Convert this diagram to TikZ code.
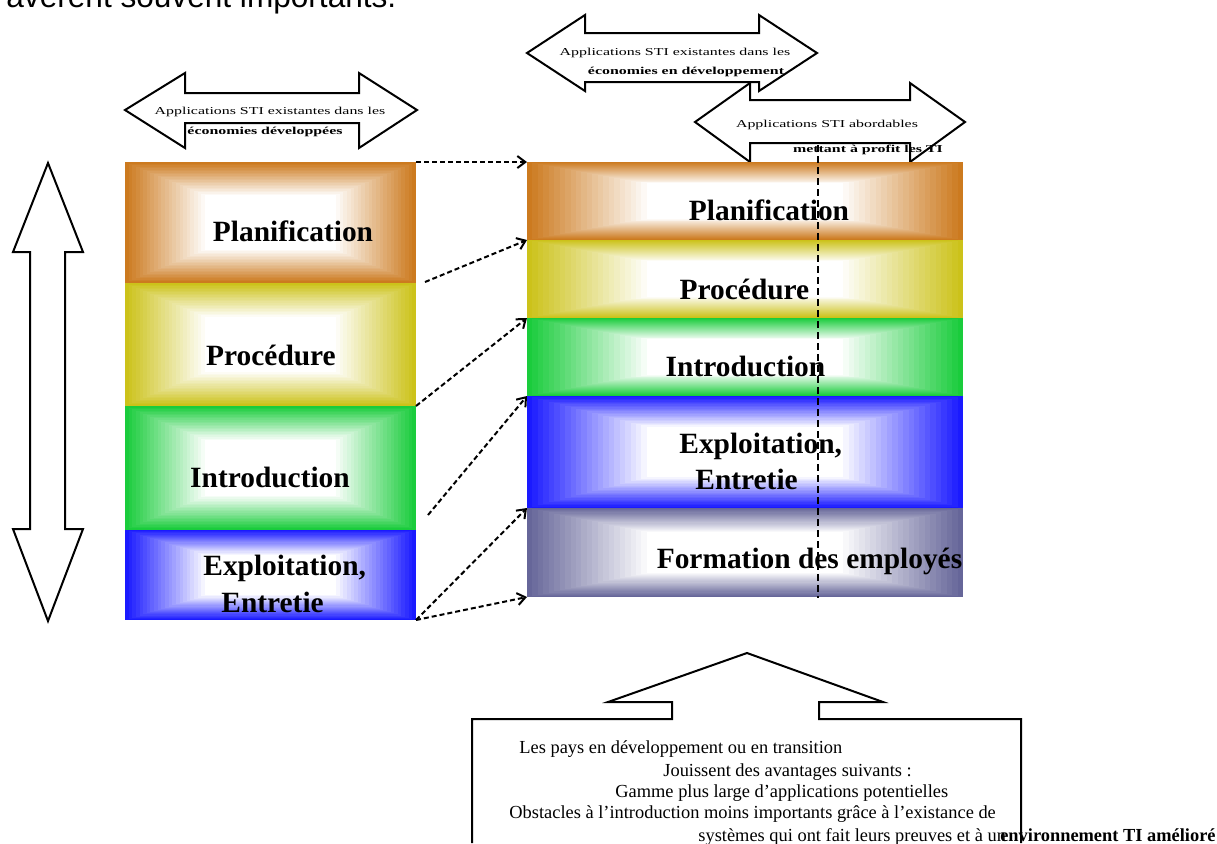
\documentclass[tikz,border=0pt]{standalone}
\usepackage{fontspec}
\setmainfont{Liberation Serif}
\newfontfamily\arrowfont[FakeStretch=1.5]{Liberation Serif}
\newfontfamily\headfont{Liberation Sans}
\usepackage{tikz}
\usetikzlibrary{positioning, arrows.meta, calc}
\definecolor{planOrange}{HTML}{CC7A1F}
\definecolor{procYellow}{HTML}{CCC21A}
\definecolor{introGreen}{HTML}{1ACC3C}
\definecolor{explBlue}{HTML}{1A1AFF}
\definecolor{formSlate}{HTML}{666699}
\tikzset{
  stage/.style   = {rectangle, inner sep=0pt, outer sep=0pt,
                    path picture={
                      \foreach \k in {0,...,22}{
                        \pgfmathsetmacro{\f}{\k*0.025}
                        \pgfmathsetmacro{\m}{100-\k*100/22}
                        \fill[#1!\m!white]
                          ($(path picture bounding box.south west)!\f!(path picture bounding box.center)$)
                          rectangle
                          ($(path picture bounding box.north east)!\f!(path picture bounding box.center)$);
                      }}},
  lbl/.style     = {font=\fontsize{14.7}{18.3}\selectfont\bfseries, inner sep=0pt},
  tag/.style     = {font=\arrowfont\fontsize{5.3}{6}\selectfont, inner sep=0pt},
  tagb/.style    = {font=\arrowfont\bfseries\fontsize{5.3}{6}\selectfont, inner sep=0pt},
  note/.style    = {font=\fontsize{9.2}{11}\selectfont, inner sep=0pt, anchor=base west},
  link/.style    = {dash pattern=on 2.5pt off 1.5pt, line width=1pt,
                    -{Straight Barb[length=4pt, width=6pt]}},
  outline/.style = {draw=black, line width=1pt, fill=white}
}
\begin{document}
\begin{tikzpicture}[x=0.5pt, y=-0.5pt]
\useasboundingbox (0,0) rectangle (1217,843);
% last line of the paragraph above
\node[font=\headfont\fontsize{15.8}{18}\selectfont, inner sep=0pt, anchor=base west]
     (topline) at (6,7) {avèrent souvent importants.};
% vertical double arrow
\draw[outline] (48,163) -- (83,252) -- (65,252) -- (65,529) -- (83,529) -- (48,621)
               -- (13,529) -- (30,529) -- (30,252) -- (13,252) -- cycle;
% horizontal double arrows
\draw[outline] (125,110) -- (185,73) -- (185,93) -- (359,93) -- (359,73) -- (417,110)
               -- (359,148) -- (359,123) -- (185,123) -- (185,148) -- cycle;
\draw[outline] (527,53) -- (585,15) -- (585,33) -- (759,33) -- (759,15) -- (817,53)
               -- (759,91) -- (759,82) -- (585,82) -- (585,91) -- cycle;
\draw[outline] (695,122) -- (750,83) -- (750,100) -- (910,100) -- (910,83) -- (965,122)
               -- (910,162) -- (910,143) -- (750,143) -- (750,162) -- cycle;
\node[tag]  (aOld1) at (270,112) {Applications STI existantes dans les};
\node[tagb] (aOld2) at (265,132) {économies développées};
\node[tag]  (aDev1) at (675,53) {Applications STI existantes dans les};
\node[tagb] (aDev2) at (686,72) {économies en développement};
\node[tag]  (aLow1) at (827,125) {Applications STI abordables};
\node[tagb] (aLow2) at (868,150) {mettant à profit les TI};
% left stack
\node[stage=planOrange, minimum width=145.5pt, minimum height=60.5pt] (lPlan) at (270.5,222.5) {};
\node[stage=procYellow, minimum width=145.5pt, minimum height=61.5pt, below=0pt of lPlan] (lProc) {};
\node[stage=introGreen, minimum width=145.5pt, minimum height=62pt, below=0pt of lProc] (lIntro) {};
\node[stage=explBlue, minimum width=145.5pt, minimum height=45pt, below=0pt of lIntro] (lExpl) {};
\node[lbl, anchor=base] (lPlanTxt) at (293,241) {Planification};
\node[lbl, anchor=base] (lProcTxt) at (271,365) {Procédure};
\node[lbl, anchor=base] (lIntroTxt) at (270,487) {Introduction};
\node[lbl, anchor=base west] (lExplTxt) at (203,575) {Exploitation,};
\node[lbl, anchor=base west] (lEntTxt) at (221,612) {Entretie};
% right stack
\node[stage=planOrange, minimum width=218pt, minimum height=39pt] (rPlan) at (745,201) {};
\node[stage=procYellow, minimum width=218pt, minimum height=39pt, below=0pt of rPlan] (rProc) {};
\node[stage=introGreen, minimum width=218pt, minimum height=39pt, below=0pt of rProc] (rIntro) {};
\node[stage=explBlue, minimum width=218pt, minimum height=56pt, below=0pt of rIntro] (rExpl) {};
\node[stage=formSlate, minimum width=218pt, minimum height=44.5pt, below=0pt of rExpl] (rForm) {};
\node[lbl, anchor=base] (rPlanTxt) at (769,220) {Planification};
\node[lbl, anchor=base] (rProcTxt) at (744.5,299) {Procédure};
\node[lbl, anchor=base] (rIntroTxt) at (745.5,376) {Introduction};
\node[lbl, anchor=base west] (rExplTxt) at (679,453) {Exploitation,};
\node[lbl, anchor=base west] (rEntTxt) at (695,489) {Entretie};
\node[lbl, anchor=base] (rFormTxt) at (809.5,568) {Formation des employés};
\draw[dash pattern=on 3.5pt off 2pt, line width=1pt] (818,145) -- (818,598);
% links between the two stacks
\draw[link] (lPlan.north east) -- (rPlan.north west);
\draw[link] ($(lPlan.south east)+(9,-1)$) -- (rProc.north west);
\draw[link] (lProc.south east) -- (rIntro.north west);
\draw[link] ($(lIntro.south east)+(12,-15)$) -- (rExpl.north west);
\draw[link] (lExpl.south east) -- (rForm.north west);
\draw[link] (lExpl.south east) -- (rForm.south west);
% callout at the bottom
\draw[line width=1pt] (472,843) -- (472,719) -- (672,719) -- (672,702) -- (608,702)
      -- (747,653) -- (883,702) -- (819,702) -- (819,719) -- (1021,719) -- (1021,843);
\node[note] (txt1) at (519,753) {Les pays en développement ou en transition};
\node[note] (txt2) at (663,776) {Jouissent des avantages suivants :};
\node[note] (txt3) at (615,797) {Gamme plus large d’applications potentielles};
\node[note] (txt4) at (509,818) {Obstacles à l’introduction moins importants grâce à l’existance de};
\node[note] (txt5) at (698,841) {systèmes qui ont fait leurs preuves et à un};
\node[note, font=\fontsize{9.2}{11}\selectfont\bfseries, anchor=base east]
     (txt6) at (1216,841) {environnement TI amélioré};
\end{tikzpicture}
\end{document}
